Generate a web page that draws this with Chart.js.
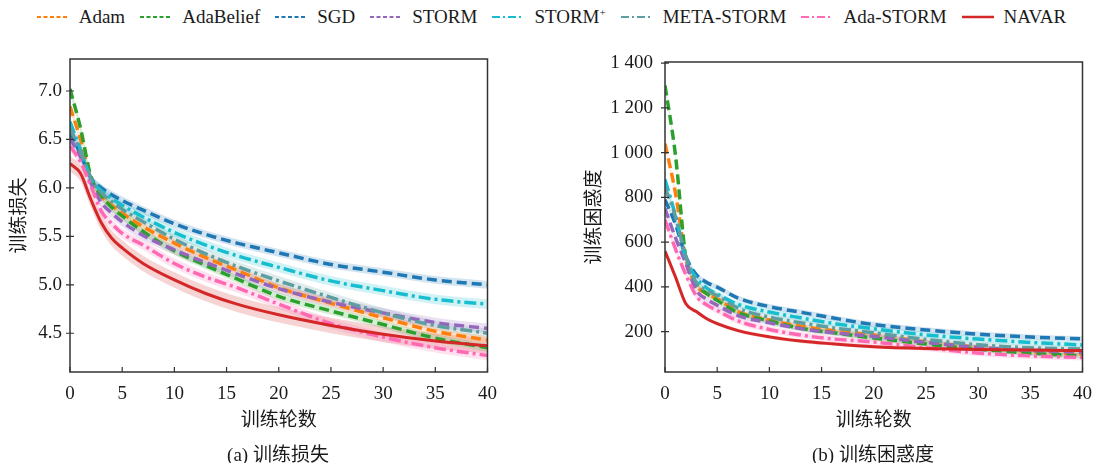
<!DOCTYPE html>
<html lang="zh-CN">
<head>
<meta charset="UTF-8">
<title>训练损失与训练困惑度</title>
<style>
    body {
        margin: 0;
        width: 1095px;
        height: 463px;
        position: relative;
        overflow: hidden;
        background: #fff;
        color: #1a1a1a;
        font-family: "Liberation Serif", "Noto Sans CJK SC", serif;
    }
    #legend {
        position: absolute;
        top: 6px;
        left: 0;
        width: 1118px;
        display: flex;
        justify-content: center;
        align-items: center;
        font-size: 19px;
        white-space: nowrap;
    }
    .item { display: flex; align-items: center; margin-right: 15px; }
    .item svg { margin-right: 10px; }
    canvas { position: absolute; top: 0; }
    #lossChart { left: 0; }
    #pplChart { left: 548px; }
    .caption {
        position: absolute;
        top: 439px;
        width: 300px;
        text-align: center;
        font-size: 19px;
    }
</style>
</head>
<body>
    <div id="legend"></div>
    <canvas id="lossChart" width="508" height="463"></canvas>
    <canvas id="pplChart" width="555" height="463"></canvas>
    <div class="caption" style="left:128px">(a) 训练损失</div>
    <div class="caption" style="left:723px">(b) 训练困惑度</div>

    <script src="https://cdn.jsdelivr.net/npm/chart.js"></script>
    <script>
        // epochs at which the curves are sampled
        const epochs = [0, 1, 2, 3, 4, 5, 7, 10, 13, 16, 20, 25, 30, 35, 40];

        const names = ["Adam", "AdaBelief", "SGD", "STORM", "STORM⁺", "META-STORM", "Ada-STORM", "NAVAR"];
        const colors = ["#ff7f0e", "#2ca02c", "#1f77b4", "#9467bd", "#17becf", "#5f9ea0", "#ff69b4", "#d62728"];
        const styles = ["dash", "dash", "dash", "dash", "dashdot", "dashdot", "dashdot", "solid"];

        // 训练损失
        const lossAdam      = [6.84, 6.50, 6.10, 5.92, 5.82, 5.74, 5.60, 5.43, 5.28, 5.15, 4.97, 4.81, 4.66, 4.52, 4.43];
        const lossAdaBelief = [7.02, 6.62, 6.12, 5.92, 5.80, 5.71, 5.55, 5.35, 5.20, 5.06, 4.88, 4.73, 4.59, 4.45, 4.35];
        const lossSGD       = [6.57, 6.35, 6.10, 6.00, 5.93, 5.87, 5.77, 5.63, 5.52, 5.43, 5.33, 5.21, 5.13, 5.05, 5.00];
        const lossSTORM     = [6.51, 6.32, 6.05, 5.85, 5.74, 5.65, 5.51, 5.36, 5.23, 5.11, 4.96, 4.82, 4.71, 4.61, 4.55];
        const lossSTORMp    = [6.68, 6.40, 6.10, 5.97, 5.89, 5.82, 5.70, 5.54, 5.41, 5.30, 5.18, 5.04, 4.94, 4.85, 4.80];
        const lossMeta      = [6.62, 6.38, 6.10, 5.95, 5.86, 5.78, 5.65, 5.47, 5.32, 5.19, 5.04, 4.87, 4.71, 4.58, 4.50];
        const lossAdaSTORM  = [6.43, 6.27, 6.02, 5.76, 5.63, 5.53, 5.41, 5.22, 5.08, 4.97, 4.80, 4.60, 4.46, 4.35, 4.27];
        const lossNAVAR     = [6.25, 6.15, 5.88, 5.64, 5.48, 5.38, 5.22, 5.05, 4.91, 4.80, 4.69, 4.58, 4.49, 4.42, 4.37];
        const lossSpread    = [0.04, 0.04, 0.04, 0.05, 0.05, 0.05, 0.05, 0.08];

        // 训练困惑度
        const pplAdam      = [1040, 820, 525, 406, 370, 347, 290, 252, 225, 205, 185, 155, 130, 112, 100];
        const pplAdaBelief = [1300, 990, 530, 415, 370, 340, 285, 248, 215, 196, 172, 145, 122, 104, 92];
        const pplSGD       = [790, 680, 535, 455, 420, 399, 350, 312, 287, 262, 232, 208, 189, 176, 168];
        const pplSTORM     = [750, 620, 505, 385, 345, 318, 272, 240, 214, 196, 179, 152, 130, 116, 108];
        const pplSTORMp    = [880, 720, 530, 440, 395, 368, 322, 288, 262, 238, 213, 186, 167, 152, 141];
        const pplMeta      = [845, 715, 535, 420, 385, 361, 305, 265, 240, 218, 195, 165, 142, 128, 122];
        const pplAdaSTORM  = [700, 570, 455, 360, 320, 295, 248, 210, 185, 168, 154, 128, 105, 92, 85];
        const pplNAVAR     = [560, 445, 325, 290, 258, 236, 205, 177, 158, 146, 133, 125, 121, 118, 116];
        const pplSpread    = [10, 12, 12, 12, 14, 14, 14, 8];

        const xTicks = [0, 5, 10, 15, 20, 25, 30, 35, 40];
        const lossTicks = [4.5, 5.0, 5.5, 6.0, 6.5, 7.0];
        const pplTicks = [200, 400, 600, 800, 1000, 1200, 1400];
        const pplTickLabels = ["200", "400", "600", "800", "1 000", "1 200", "1 400"];

        const lossSeries = [lossAdam, lossAdaBelief, lossSGD, lossSTORM, lossSTORMp, lossMeta, lossAdaSTORM, lossNAVAR];
        const pplSeries = [pplAdam, pplAdaBelief, pplSGD, pplSTORM, pplSTORMp, pplMeta, pplAdaSTORM, pplNAVAR];

        const fontFamily = '"Liberation Serif", "Noto Sans CJK SC", serif';
        const textColor = "#1a1a1a";
        const axisColor = "#333";

        const dashes = { dash: [10, 5], dashdot: [12, 4, 3, 4], solid: [] };
        const legendDashes = { dash: "4 2.5", dashdot: "8 3 2 3", solid: "" };

        function rgba(hex, a) {
            const n = parseInt(hex.slice(1), 16);
            return `rgba(${n >> 16}, ${(n >> 8) & 255}, ${n & 255}, ${a})`;
        }

        // legend shared by both panels
        const legend = document.getElementById("legend");
        names.forEach((name, i) => {
            const item = document.createElement("div");
            item.className = "item";
            item.innerHTML =
                `<svg width="32" height="6"><line x1="0" y1="3" x2="32" y2="3" stroke="${colors[i]}" ` +
                `stroke-width="${styles[i] === "solid" ? 2.5 : 2}" stroke-dasharray="${legendDashes[styles[i]]}"/></svg>` +
                `<span>${name.replace("⁺", "<sup style=\"font-size:11px\">+</sup>")}</span>`;
            legend.appendChild(item);
        });

        function buildDatasets(series, spread) {
            const sets = [];
            series.forEach((vals, i) => {
                const pts = (d) => epochs.map((e, k) => ({ x: e, y: vals[k] + d }));
                // shaded band around the mean curve
                sets.push({ data: pts(spread[i]), borderWidth: 0, fill: false, order: 50 });
                sets.push({ data: pts(-spread[i]), borderWidth: 0, fill: "-1",
                            backgroundColor: rgba(colors[i], 0.2), order: 50 });
                sets.push({
                    label: names[i],
                    data: pts(0),
                    borderColor: colors[i],
                    borderWidth: styles[i] === "solid" ? 3 : 3.5,
                    borderDash: dashes[styles[i]],
                    fill: false,
                    order: 20 - i
                });
            });
            return sets;
        }

        // box around the plot area, x ticks pointing in, y ticks crossing the axis
        const framePlugin = {
            id: "frame",
            afterDraw(chart) {
                const { ctx, chartArea: a, scales } = chart;
                ctx.save();
                ctx.strokeStyle = axisColor;
                ctx.lineWidth = 1.5;
                ctx.strokeRect(a.left, a.top, a.right - a.left, a.bottom - a.top);
                ctx.lineWidth = 1.2;
                ctx.beginPath();
                scales.x.ticks.forEach(t => {
                    const px = scales.x.getPixelForValue(t.value);
                    ctx.moveTo(px, a.bottom);
                    ctx.lineTo(px, a.bottom - 5);
                });
                scales.y.ticks.forEach(t => {
                    const py = scales.y.getPixelForValue(t.value);
                    ctx.moveTo(a.left - 4, py);
                    ctx.lineTo(a.left + 4, py);
                });
                ctx.stroke();
                ctx.restore();
            }
        };

        function makeChart(id, series, spread, cfg) {
            const font = { family: fontFamily, size: 19 };
            return new Chart(document.getElementById(id), {
                type: "line",
                data: { datasets: buildDatasets(series, spread) },
                options: {
                    responsive: false,
                    animation: false,
                    layout: { padding: { top: cfg.top, right: 6, bottom: 31, left: 0 } },
                    elements: {
                        point: { radius: 0 },
                        line: { cubicInterpolationMode: "monotone" }
                    },
                    plugins: { legend: { display: false }, tooltip: { enabled: false } },
                    scales: {
                        x: {
                            type: "linear",
                            min: 0,
                            max: 40,
                            grid: { display: false, drawTicks: false },
                            border: { display: false },
                            afterBuildTicks: s => { s.ticks = xTicks.map(v => ({ value: v })); },
                            afterFit: s => { s.height = 60; },
                            ticks: { padding: 11, maxRotation: 0, font, color: textColor, callback: v => String(v) },
                            title: { display: true, text: "训练轮数", font, color: textColor, padding: 0 }
                        },
                        y: {
                            min: cfg.min,
                            max: cfg.max,
                            grid: { display: false, drawTicks: false },
                            border: { display: false },
                            afterBuildTicks: s => { s.ticks = cfg.ticks.map(v => ({ value: v })); },
                            afterFit: s => { s.width = cfg.axisWidth; },
                            ticks: { padding: cfg.tickPad, font, color: textColor, callback: (v, i) => cfg.labels[i] },
                            title: { display: true, text: cfg.title, font, color: textColor,
                                     padding: { top: cfg.titlePad, bottom: 0 } }
                        }
                    }
                },
                plugins: [framePlugin]
            });
        }

        makeChart("lossChart", lossSeries, lossSpread, {
            top: 59, min: 4.1, max: 7.33, ticks: lossTicks,
            labels: lossTicks.map(v => v.toFixed(1)),
            axisWidth: 70, tickPad: 8, title: "训练损失", titlePad: 9
        });

        makeChart("pplChart", pplSeries, pplSpread, {
            top: 62, min: 20, max: 1405, ticks: pplTicks,
            labels: pplTickLabels,
            axisWidth: 117, tickPad: 12, title: "训练困惑度", titlePad: 36
        });
    </script>
</body>
</html>
